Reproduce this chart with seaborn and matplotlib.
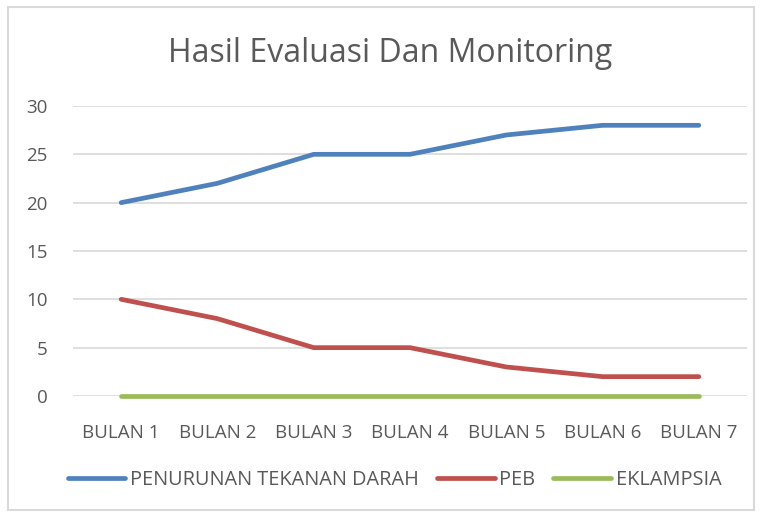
import matplotlib
matplotlib.use("Agg")
import matplotlib.pyplot as plt
import seaborn as sns
import pandas as pd

# data
bulan = ["BULAN 1", "BULAN 2", "BULAN 3", "BULAN 4", "BULAN 5", "BULAN 6", "BULAN 7"]
penurunan = [20, 22, 25, 25, 27, 28, 28]
peb = [10, 8, 5, 5, 3, 2, 2]
eklampsia = [0, 0, 0, 0, 0, 0, 0]
series_names = ["PENURUNAN TEKANAN DARAH", "PEB", "EKLAMPSIA"]
colors = ["#4F81BD", "#C0504D", "#9BBB59"]

df = pd.DataFrame({
    "bulan": bulan * 3,
    "x": list(range(len(bulan))) * 3,
    "nilai": penurunan + peb + eklampsia,
    "seri": [series_names[0]] * 7 + [series_names[1]] * 7 + [series_names[2]] * 7,
})

sns.set_style("white")
plt.rcParams["font.family"] = ["Open Sans", "DejaVu Sans"]

fig = plt.figure(figsize=(7.62, 5.16), dpi=100)
ax = fig.add_axes([0.0958, 0.2326, 0.8845, 0.562])

sns.lineplot(data=df, x="x", y="nilai", hue="seri", hue_order=series_names,
             palette=colors, linewidth=3.4, ax=ax, legend=False,
             solid_capstyle="round", zorder=3)
for ln in ax.lines:
    ln.set_clip_on(False)

ax.set_xlim(-0.5, len(bulan) - 0.5)
ax.set_ylim(0, 30)
ax.set_yticks([0, 5, 10, 15, 20, 25, 30])
ax.set_xticks(range(len(bulan)))
ax.set_xticklabels(bulan)
ax.set_xlabel("")
ax.set_ylabel("")
ax.grid(axis="y", color="#D9D9D9", linewidth=1.2)
ax.set_axisbelow(True)
for s in ax.spines.values():
    s.set_visible(False)
ax.tick_params(axis="both", length=0, labelsize=13.5, labelcolor="#595959")
ax.tick_params(axis="x", pad=20)
ax.tick_params(axis="y", pad=18)

fig.text(0.512, 0.897, "Hasil Evaluasi Dan Monitoring", ha="center", va="center",
         fontsize=23, color="#595959")

handles = [plt.Line2D([0], [0], color=c, lw=3.4, solid_capstyle="round") for c in colors]
fig.legend(handles, series_names, loc="center", bbox_to_anchor=(0.518, 0.07),
           ncol=3, frameon=False, fontsize=14.3, labelcolor="#595959",
           handlelength=2.9, handletextpad=0.25, columnspacing=0.9)

fig.patches.append(plt.Rectangle((0.011, 0.012), 0.978, 0.975, transform=fig.transFigure,
                                 fill=False, edgecolor="#D9D9D9", linewidth=1.5))

fig.savefig("out.png", dpi=100)
